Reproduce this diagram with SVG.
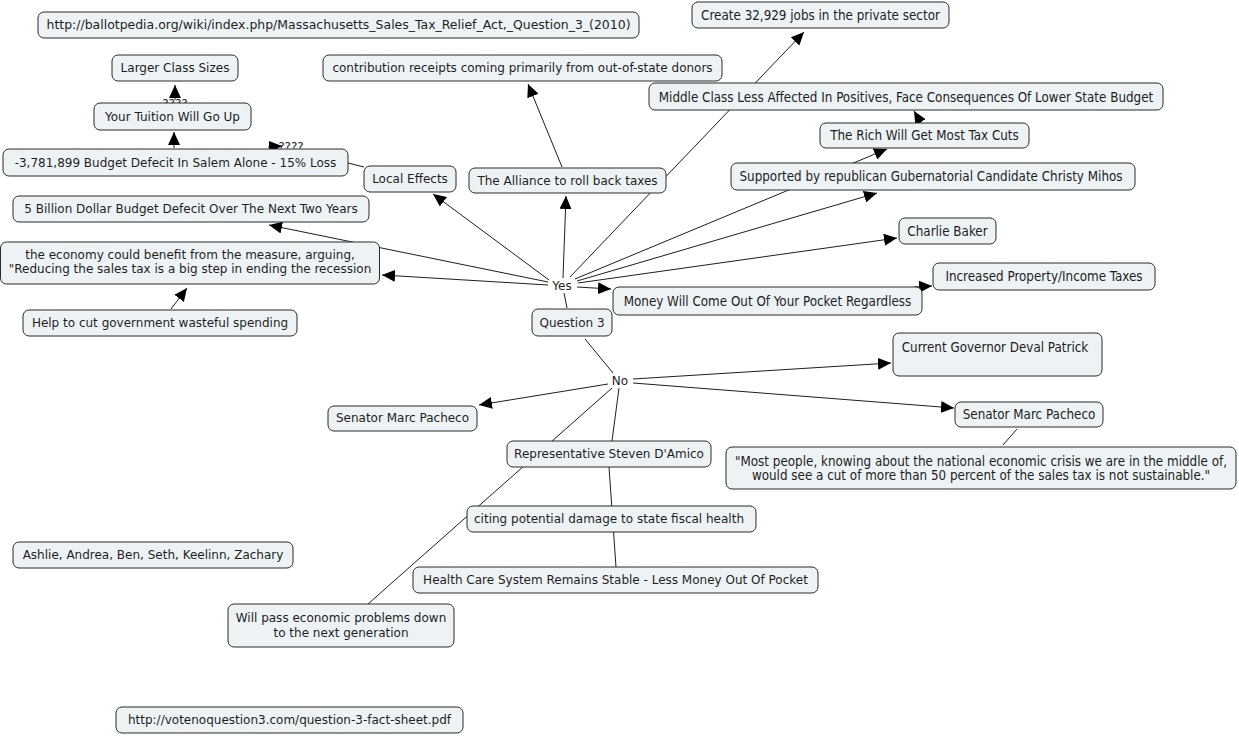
<svg xmlns="http://www.w3.org/2000/svg" width="1239" height="736" viewBox="0 0 1239 736">
<style>
.b{fill:#edf3f5;stroke:#2b2b2b;stroke-width:1}
.v{font-family:"DejaVu Sans",Verdana,sans-serif;font-size:12px;fill:#1e1e1e;text-anchor:middle}
.t{font-family:"DejaVu Sans Condensed","DejaVu Sans",Tahoma,sans-serif;font-size:13.3px;fill:#1e1e1e;text-anchor:middle}
.c line{stroke:#1e1e1e;stroke-width:1}
.a{marker-end:url(#ah)}
</style>
<defs>
<marker id="ah" markerUnits="userSpaceOnUse" markerWidth="14" markerHeight="12" viewBox="0 0 14 12" refX="13" refY="6" orient="auto">
<path d="M0,0 L13,6 L0,12 Z" fill="#000"/>
</marker>
</defs>
<rect width="1239" height="736" fill="#fff"/>
<g id="connectors" class="c">
<line x1="567" y1="308" x2="564" y2="293"/>
<line x1="585" y1="339" x2="613" y2="373"/>
<line class="a" x1="549" y1="280" x2="433" y2="194"/>
<line class="a" x1="563" y1="278" x2="566" y2="196"/>
<line class="a" x1="570" y1="277" x2="804" y2="32"/>
<line class="a" x1="575" y1="279" x2="887" y2="149"/>
<line class="a" x1="577" y1="281" x2="877" y2="193"/>
<line class="a" x1="578" y1="283" x2="897" y2="238"/>
<line class="a" x1="577" y1="287" x2="611" y2="289"/>
<line class="a" x1="914" y1="287" x2="932" y2="286"/>
<line class="a" x1="548" y1="282" x2="269" y2="225"/>
<line class="a" x1="548" y1="285" x2="382" y2="275"/>
<line class="a" x1="171" y1="309" x2="187" y2="288"/>
<line x1="348" y1="163" x2="364" y2="167"/>
<line class="a" x1="174" y1="148" x2="174" y2="132"/>
<line class="a" x1="175" y1="100" x2="175" y2="85"/>
<line class="a" x1="268" y1="147" x2="282" y2="146"/>
<line class="a" x1="562" y1="167" x2="528" y2="84"/>
<line class="a" x1="921" y1="123" x2="914" y2="111"/>
<line class="a" x1="633" y1="379" x2="891" y2="363"/>
<line class="a" x1="633" y1="383" x2="954" y2="408"/>
<line class="a" x1="608" y1="384" x2="479" y2="405"/>
<line x1="612" y1="388" x2="368" y2="604"/>
<line x1="619" y1="388" x2="612" y2="441"/>
<line x1="609" y1="467" x2="616" y2="567"/>
<line x1="1017" y1="429" x2="1003" y2="445"/>
<text class="v" x="175" y="108">????</text>
<text class="v" x="291" y="151">????</text>
</g>
<g id="n_url"><rect class="b" x="38" y="12" width="601" height="26" rx="6"/><text class="v" x="338.5" y="29" textLength="584" lengthAdjust="spacingAndGlyphs">http://ballotpedia.org/wiki/index.php/Massachusetts_Sales_Tax_Relief_Act,_Question_3_(2010)</text></g>
<g id="n_larger"><rect class="b" x="112" y="55" width="126" height="26" rx="6"/><text class="v" x="175" y="72">Larger Class Sizes</text></g>
<g id="n_tuition"><rect class="b" x="94" y="103" width="157" height="27" rx="6"/><text class="v" x="172.5" y="121">Your Tuition Will Go Up</text></g>
<g id="n_salem"><rect class="b" x="3" y="149" width="345" height="27" rx="6"/><text class="v" x="175.5" y="167">-3,781,899 Budget Defecit In Salem Alone - 15% Loss</text></g>
<g id="n_local"><rect class="b" x="364" y="166" width="92" height="26" rx="6"/><text class="v" x="410" y="183">Local Effects</text></g>
<g id="n_5b"><rect class="b" x="13" y="196" width="356" height="26" rx="6"/><text class="v" x="191" y="213">5 Billion Dollar Budget Defecit Over The Next Two Years</text></g>
<g id="n_econ"><rect class="b" x="0.5" y="242" width="379" height="42" rx="6"/><text class="v" x="190" y="259">the economy could benefit from the measure, arguing,</text><text class="v" x="190" y="273">"Reducing the sales tax is a big step in ending the recession</text></g>
<g id="n_help"><rect class="b" x="23" y="310" width="274" height="26" rx="6"/><text class="v" x="160" y="327">Help to cut government wasteful spending</text></g>
<g id="n_contrib"><rect class="b" x="323" y="55" width="399" height="26" rx="6"/><text class="v" x="522.5" y="72">contribution receipts coming primarily from out-of-state donors</text></g>
<g id="n_alliance"><rect class="b" x="469" y="168" width="197" height="25" rx="6"/><text class="v" x="567.5" y="185">The Alliance to roll back taxes</text></g>
<g id="n_create"><rect class="b" x="692" y="2" width="257" height="26" rx="6"/><text class="t" x="820.5" y="19.5">Create 32,929 jobs in the private sector</text></g>
<g id="n_middle"><rect class="b" x="649" y="83" width="514" height="27" rx="6"/><text class="t" x="906" y="101.5">Middle Class Less Affected In Positives, Face Consequences Of Lower State Budget</text></g>
<g id="n_rich"><rect class="b" x="820" y="123" width="209" height="25" rx="6"/><text class="t" x="924.5" y="140">The Rich Will Get Most Tax Cuts</text></g>
<g id="n_mihos"><rect class="b" x="731" y="163" width="404" height="27" rx="6"/><text class="t" x="931" y="180.5">Supported by republican Gubernatorial Candidate Christy Mihos</text></g>
<g id="n_baker"><rect class="b" x="899" y="218" width="97" height="26" rx="6"/><text class="t" x="947.5" y="235.5">Charlie Baker</text></g>
<g id="n_increased"><rect class="b" x="933" y="263" width="222" height="27" rx="6"/><text class="t" x="1044" y="280.5">Increased Property/Income Taxes</text></g>
<g id="n_money"><rect class="b" x="613" y="287" width="309" height="28" rx="6"/><text class="t" x="767.5" y="305.5">Money Will Come Out Of Your Pocket Regardless</text></g>
<g id="n_q3"><rect class="b" x="532" y="309" width="80" height="27" rx="6"/><text class="v" x="572" y="327">Question 3</text></g>
<g id="n_yes"><text class="v" x="562" y="290">Yes</text></g>
<g id="n_no"><text class="v" x="620" y="385">No</text></g>
<g id="n_gov"><rect class="b" x="893" y="333" width="209" height="43" rx="6"/><text class="t" x="995" y="351.5">Current Governor Deval Patrick</text></g>
<g id="n_pacheco_l"><rect class="b" x="328" y="406" width="149" height="25" rx="6"/><text class="v" x="402.5" y="422">Senator Marc Pacheco</text></g>
<g id="n_pacheco_r"><rect class="b" x="955" y="402" width="148" height="25" rx="6"/><text class="t" x="1029" y="418.5">Senator Marc Pacheco</text></g>
<g id="n_quote"><rect class="b" x="726" y="447" width="510" height="42" rx="6"/><text class="t" x="981" y="465.5">"Most people, knowing about the national economic crisis we are in the middle of,</text><text class="t" x="981" y="479.5">would see a cut of more than 50 percent of the sales tax is not sustainable."</text></g>
<g id="n_rep"><rect class="b" x="507" y="441" width="204" height="26" rx="6"/><text class="v" x="609" y="458">Representative Steven D'Amico</text></g>
<g id="n_citing"><rect class="b" x="467" y="506" width="289" height="26" rx="6"/><text class="v" x="609" y="523">citing potential damage to state fiscal health</text></g>
<g id="n_health"><rect class="b" x="413" y="567" width="405" height="26" rx="6"/><text class="v" x="615.5" y="584">Health Care System Remains Stable - Less Money Out Of Pocket</text></g>
<g id="n_ashlie"><rect class="b" x="13" y="542" width="280" height="26" rx="6"/><text class="v" x="153" y="559">Ashlie, Andrea, Ben, Seth, Keelinn, Zachary</text></g>
<g id="n_willpass"><rect class="b" x="228" y="604" width="226" height="43" rx="6"/><text class="v" x="341" y="622">Will pass economic problems down</text><text class="v" x="341" y="637">to the next generation</text></g>
<g id="n_vote"><rect class="b" x="116" y="707" width="347" height="26" rx="6"/><text class="v" x="289.5" y="724">http://votenoquestion3.com/question-3-fact-sheet.pdf</text></g>
</svg>
